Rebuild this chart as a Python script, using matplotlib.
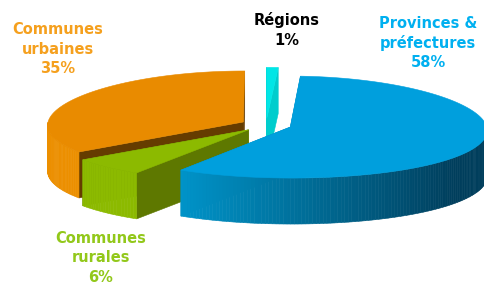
import numpy as np
import matplotlib
matplotlib.use("Agg")
import matplotlib.pyplot as plt
from matplotlib.patches import Polygon

# ---- data ----
categories = ["Régions", "Provinces &\npréfectures", "Communes\nrurales", "Communes\nurbaines"]
values = [1, 58, 6, 35]
labels = ["Régions\n1%", "Provinces &\npréfectures\n58%", "Communes\nrurales\n6%", "Communes\nurbaines\n35%"]

# ---- style ----
top_colors = ["#00E6E6", "#009FDD", "#8CBA00", "#E98B00"]
wall_colors = ["#00CDCD", "#0088BB", "#5E7800", "#653C00"]
side_light = [(0, 215, 215), (0, 152, 206), (140, 186, 0), (236, 143, 0)]
side_dark = [(0, 180, 180), (0, 62, 92), (120, 165, 0), (226, 132, 0)]
label_colors = ["#000000", "#00B0F0", "#92C81A", "#F5A01E"]
label_pos = [(287, 30), (428, 43), (101, 258), (58, 49)]
draw_order = [0, 3, 2, 1]

CX, CY = 266, 125
RX, RY = 196, 51
H = 46
EXPL = 0.13
PERSP = 0.06

fig = plt.figure(figsize=(4.85, 2.86), dpi=100)
ax = fig.add_axes([0, 0, 1, 1])
ax.set_xlim(0, 485)
ax.set_ylim(286, 0)
ax.axis("off")

total = float(sum(values))
bounds = np.concatenate([[0], np.cumsum(values)]) / total * 360.0


def proj(X, Y, dz=0.0):
    s = 1 + PERSP * (-Y)
    return (CX + RX * X * s, CY - RY * Y + dz)


def world(ctr, t, r=1.0):
    tr = np.radians(t)
    return (ctr[0] + r * np.sin(tr), ctr[1] + r * np.cos(tr))


def poly(pts, color, z):
    ax.add_patch(Polygon(pts, closed=True, facecolor=color, edgecolor=color,
                         linewidth=0.4, zorder=z))


def rgb(c):
    return tuple(v / 255 for v in c)


z = 1
for i in draw_order:
    a0, a1 = bounds[i], bounds[i + 1]
    mid = np.radians((a0 + a1) / 2)
    ctr = (EXPL * np.sin(mid), EXPL * np.cos(mid))
    apex = proj(*ctr)
    apex_b = proj(*ctr, H)
    # radial walls
    for a in (a0, a1):
        w = world(ctr, a)
        poly([apex, proj(*w), proj(*w, H), apex_b], wall_colors[i], z)
    z += 1
    # outer front side
    s0, s1 = max(a0, 90), min(a1, 270)
    if s1 > s0:
        n = max(int((s1 - s0) / 1.0), 2)
        ts = np.linspace(s0, s1, n + 1)
        for k in range(n):
            ta, tb = ts[k], ts[k + 1]
            s = np.sin(np.radians((ta + tb) / 2))
            f = np.clip((s + 0.6) / 1.4, 0, 1)
            col = np.array(side_light[i]) + (np.array(side_dark[i]) - np.array(side_light[i])) * f
            wa, wb = world(ctr, ta), world(ctr, tb)
            poly([proj(*wa), proj(*wb), proj(*wb, H), proj(*wa, H)], rgb(col), z)
    z += 1
    # top face
    ts = np.linspace(a0, a1, max(int(a1 - a0), 2) + 1)
    pts = [apex] + [proj(*world(ctr, t)) for t in ts]
    poly(pts, top_colors[i], z)
    z += 1

for i, lab in enumerate(labels):
    ax.text(label_pos[i][0], label_pos[i][1], lab, color=label_colors[i],
            fontsize=10.5, fontweight="bold", ha="center", va="center",
            family="DejaVu Sans", linespacing=1.35, zorder=50)

fig.savefig("out.png", dpi=100)
